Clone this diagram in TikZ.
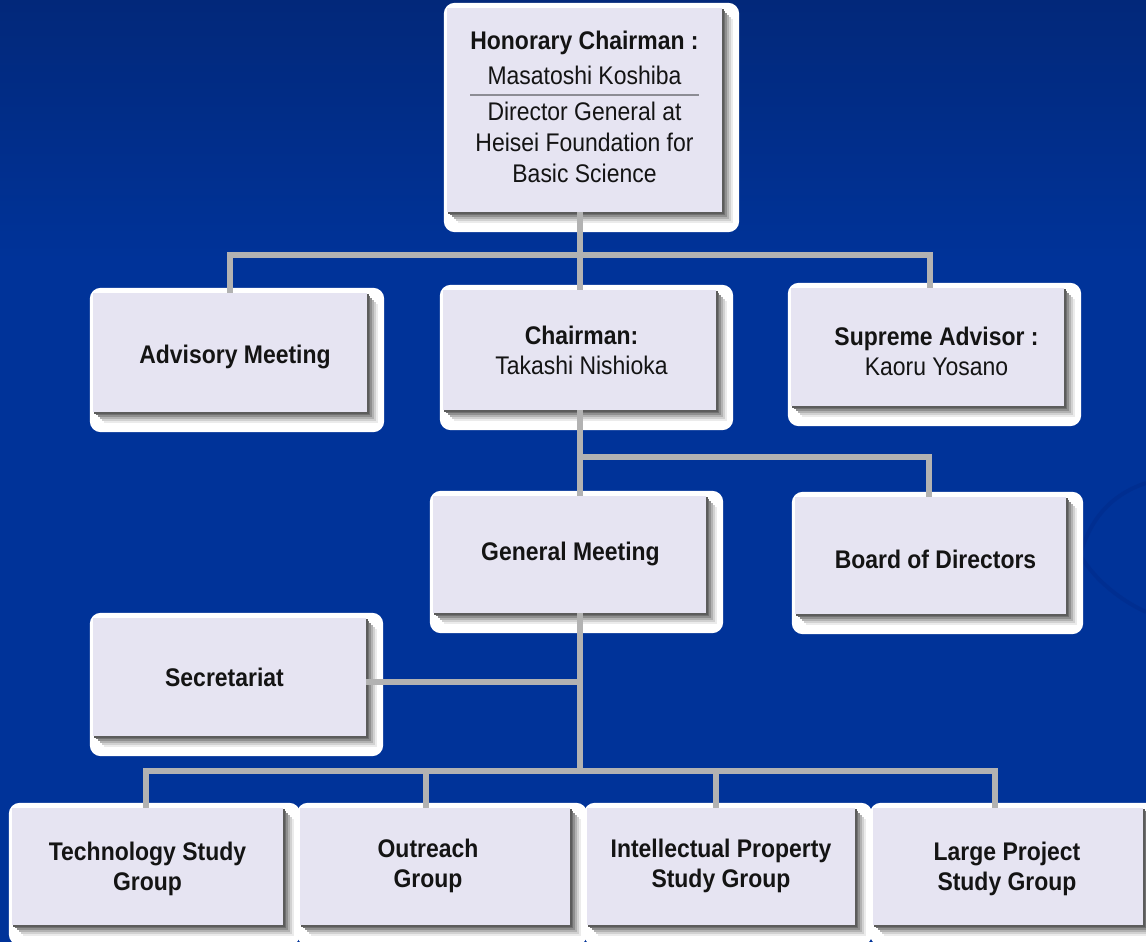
\documentclass[tikz,border=0pt]{standalone}
\usepackage{fontspec}
\setmainfont{Liberation Sans}[FakeStretch=0.9]
\usepackage{colortbl}
\definecolor{bgblue}{RGB}{0,51,153}
\definecolor{bgtop}{RGB}{2,40,122}
\definecolor{swoosh}{RGB}{0,44,140}
\definecolor{boxfill}{RGB}{230,228,242}
\definecolor{linegray}{RGB}{178,178,178}
\definecolor{txtcol}{RGB}{20,20,20}
\definecolor{rulegray}{RGB}{140,140,148}
\pgfdeclarelayer{bg}
\pgfdeclarelayer{glow}
\pgfdeclarelayer{lines}
\pgfsetlayers{bg,glow,lines,main}
\newcommand\decobox[1]{%
  \begin{pgfonlayer}{glow}
    \fill[white, rounded corners=11pt] ([xshift=-3pt,yshift=5pt]#1.north west) rectangle ([xshift=17pt,yshift=-20pt]#1.south east);
    \foreach \d/\k in {11/8,9/18,7/30,5/44,3/56,1.5/64}
      \fill[black!\k] ([xshift=\d pt,yshift=-\d pt]#1.north west) rectangle ([xshift=\d pt,yshift=-\d pt]#1.south east);
  \end{pgfonlayer}}
% text block shifted by (#1 right, #2 down) inside its box
\newcommand\tsh[3]{\kern#1pt\raisebox{-#2pt}[\height][\depth]{\begin{tabular}{@{}c@{}}#3\end{tabular}}\kern-#1pt}
\begin{document}
\begin{tikzpicture}[x=1pt,y=-1pt,
  box/.style={rectangle, fill=boxfill, inner sep=0pt, minimum width=273pt, minimum height=118pt,
    align=center, text=txtcol, font=\fontsize{25.5}{30}\selectfont},
  conn/.style={draw=linegray, line width=6pt, line join=miter}]
\useasboundingbox (0,0) rectangle (1146,942);
\begin{pgfonlayer}{bg}
  \fill[bgblue] (0,0) rectangle (1146,942);
  \shade[top color=bgtop, bottom color=bgblue] (0,0) rectangle (1146,260);
  \draw[swoosh, line width=4pt, opacity=0.6] (1146,483) .. controls (1110,495) and (1090,520) .. (1080,555) .. controls (1095,580) and (1120,600) .. (1146,612);
\end{pgfonlayer}

% boxes
\node[box, minimum width=275pt, minimum height=204pt] (hon) at (584.5,110)
  {\arrayrulecolor{rulegray}\setlength\arrayrulewidth{1.5pt}\renewcommand\arraystretch{1.04}%
   \begin{tabular}{@{\hspace{0pt}}c@{\hspace{0pt}}}\textbf{Honorary Chairman :}\\[4pt]
   Masatoshi Koshiba\\\hline\noalign{\vskip3pt}
   Director General at\\Heisei Foundation for\\Basic Science\end{tabular}};
\node[box, minimum width=274pt, minimum height=119pt] (adv) at (230,352.5) {\tsh{5}{5}{\textbf{Advisory Meeting}}};
\node[box, minimum height=120pt] (chair) at (579.5,350) {\tsh{2}{3}{\textbf{Chairman:}\\Takashi Nishioka}};
\node[box] (sup) at (927.5,347) {\tsh{9}{7}{\textbf{Supreme Advisor :}\\Kaoru Yosano}};
\node[box, minimum height=117pt] (gen) at (569.5,554.5) {\tsh{1}{0}{\textbf{General Meeting}}};
\node[box, minimum width=271pt, minimum height=117pt] (board) at (930.5,555.5) {\tsh{5}{7}{\textbf{Board of Directors}}};
\node[box] (sec) at (229.5,677) {\tsh{-5}{3}{\textbf{Secretariat}}};
\node[box, minimum width=271pt, minimum height=117pt] (tech) at (147.5,866.5) {\tsh{0}{3}{\textbf{Technology Study}\\\textbf{Group}}};
\node[box, minimum width=270pt, minimum height=117pt] (outr) at (435,866.5) {\tsh{-7}{0}{\textbf{Outreach}\\\textbf{Group}}};
\node[box, minimum width=268pt, minimum height=117pt] (ip) at (721,866.5) {\tsh{0}{0}{\textbf{Intellectual Property}\\\textbf{Study Group}}};
\node[box, minimum width=270pt, minimum height=117pt] (large) at (1008,866.5) {\tsh{-1}{3}{\textbf{Large Project}\\\textbf{Study Group}}};

\foreach \n in {hon,adv,chair,sup,gen,board,sec,tech,outr,ip,large} {\decobox{\n}}

% connectors
\coordinate (t1) at (580,255);
\coordinate (t1L) at (230,255);
\coordinate (t1R) at (930,255);
\coordinate (t2) at (580,457);
\coordinate (t2R) at (929,457);
\coordinate (s3) at (580,682);
\coordinate (t3) at (580,771);
\coordinate (t3L) at (146,771);
\coordinate (t3o) at (426,771);
\coordinate (t3i) at (716,771);
\coordinate (t3R) at (995,771);
\begin{pgfonlayer}{lines}
  \draw[conn] (hon.south -| t1) -- (chair.north -| t1);
  \draw[conn] (adv.north -| t1L) -- (t1L) -- (t1R) -- (sup.north -| t1R);
  \draw[conn] (chair.south -| t2) -- (gen.north -| t2);
  \draw[conn] (t2) -- (t2R) -- (board.north -| t2R);
  \draw[conn] (gen.south -| t3) -- (t3);
  \draw[conn] (sec.east |- s3) -- (s3);
  \draw[conn] (tech.north -| t3L) -- (t3L) -- (t3R) -- (large.north -| t3R);
  \draw[conn] (t3o) -- (outr.north -| t3o);
  \draw[conn] (t3i) -- (ip.north -| t3i);
\end{pgfonlayer}
\end{tikzpicture}
\end{document}
